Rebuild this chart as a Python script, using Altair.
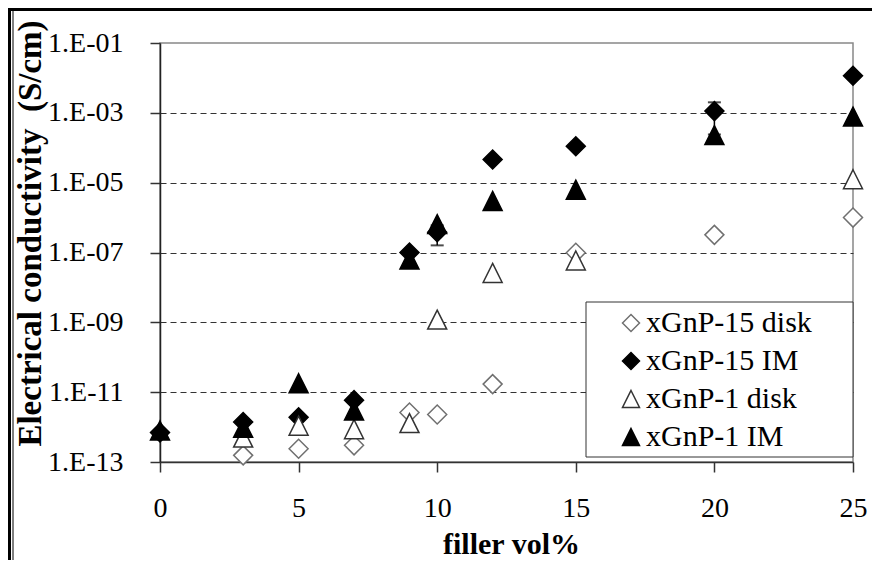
import altair as alt
import pandas as pd

series = ["xGnP-15 disk", "xGnP-15 IM", "xGnP-1 disk", "xGnP-1 IM"]

x_15disk = [3, 5, 7, 9, 10, 12, 15, 20, 25]
y_15disk = [1.55e-13, 2.4e-13, 3.0e-13, 2.6e-12, 2.3e-12, 1.7e-11, 9.8e-8, 3.2e-7, 1.0e-6]

x_15im = [0, 3, 5, 7, 9, 10, 12, 15, 20, 25]
y_15im = [7e-13, 1.4e-12, 1.9e-12, 5.9e-12, 1.0e-7, 3.8e-7, 4.6e-5, 1.1e-4, 1.12e-3, 1.15e-2]

x_1disk = [3, 5, 7, 9, 10, 12, 15, 25]
y_1disk = [5.0e-13, 1.1e-12, 8.7e-13, 1.3e-12, 1.2e-9, 2.6e-8, 5.9e-8, 1.25e-5]

x_1im = [0, 3, 5, 7, 9, 10, 12, 15, 20, 25]
y_1im = [8e-13, 9.5e-13, 1.8e-11, 3.0e-12, 6.3e-8, 6.5e-7, 3.0e-6, 6.3e-6, 2.3e-4, 7.8e-4]

# error bars (xGnP-15 IM)
err_x = [10, 20]
err_lo = [1.6e-7, 2.4e-4]
err_hi = [6.0e-7, 2.0e-3]

y_ticks = [1e-13, 1e-11, 1e-9, 1e-7, 1e-5, 1e-3, 1e-1]
x_ticks = [0, 5, 10, 15, 20, 25]

shape_range = ["diamond", "diamond", "M0,-1L1,1L-1,1Z", "M0,-1L1,1L-1,1Z"]
fill_range = ["white", "black", "white", "black"]
stroke_range = ["#707070", "black", "#333333", "black"]

rows = []
for name, xs, ys in zip(series, [x_15disk, x_15im, x_1disk, x_1im],
                        [y_15disk, y_15im, y_1disk, y_1im]):
    for xv, yv in zip(xs, ys):
        rows.append({"vol": xv, "cond": yv, "series": name})
df = pd.DataFrame(rows)
err_df = pd.DataFrame({"vol": err_x, "lo": err_lo, "hi": err_hi})
one = pd.DataFrame({"a": [0]})

FONT = "Liberation Serif"

xscale = alt.Scale(domain=[0, 25], nice=False, zero=True)
yscale = alt.Scale(type="log", domain=[1e-13, 1e-1], nice=False)

label_expr = ("'1.E-' + (round(-log(datum.value)/LN10) < 10 ? '0' : '') + "
              "round(-log(datum.value)/LN10)")

x_axis = alt.Axis(values=x_ticks, title="filler vol%", grid=False,
                  labelFont=FONT, labelFontSize=28, labelColor="black",
                  labelPadding=22, labelFlush=False,
                  tickSize=10, tickColor="#333333", tickWidth=1.5,
                  domainColor="#333333", domainWidth=1.5,
                  titleFont=FONT, titleFontSize=30, titleFontWeight="bold",
                  titleColor="black", titleX=351, titleY=82,
                  titleAlign="center", titleBaseline="middle")
y_axis = alt.Axis(values=y_ticks, labelExpr=label_expr,
                  title="Electrical conductivity\u00a0\u00a0(S/cm)",
                  grid=True, gridDash=[6, 4], gridColor="#333333", gridWidth=1,
                  gridOpacity={"condition": {"test": "datum.value > 0.05 || datum.value < 1e-12", "value": 0}, "value": 1},
                  labelFont=FONT, labelFontSize=28, labelColor="black",
                  labelPadding=27, labelFlush=False,
                  tickSize=10, tickColor="#333333", tickWidth=1.5,
                  domainColor="#222222", domainWidth=1.5,
                  titleFont=FONT, titleFontSize=33, titleFontWeight="bold",
                  titleColor="black", titleAngle=270, titleX=-130, titleY=190,
                  titleAlign="center", titleBaseline="middle")

legend = alt.Legend(orient="none", legendX=426, legendY=259, title=None,
                    padding=6, rowPadding=8, symbolOffset=24, labelOffset=0,
                    symbolSize=289, symbolStrokeWidth=1.5, labelLimit=400,
                    labelFont=FONT, labelFontSize=30, labelColor="black")

points = alt.Chart(df).mark_point(size=361, strokeWidth=1.5, opacity=1).encode(
    x=alt.X("vol:Q", scale=xscale, axis=x_axis),
    y=alt.Y("cond:Q", scale=yscale, axis=y_axis),
    shape=alt.Shape("series:N", scale=alt.Scale(domain=series, range=shape_range), legend=legend),
    fill=alt.Fill("series:N", scale=alt.Scale(domain=series, range=fill_range), legend=legend),
    stroke=alt.Stroke("series:N", scale=alt.Scale(domain=series, range=stroke_range), legend=legend),
)

err_rule = alt.Chart(err_df).mark_rule(color="black", strokeWidth=1.5).encode(
    x="vol:Q", y="lo:Q", y2="hi:Q")
err_cap_lo = alt.Chart(err_df).mark_tick(color="black", thickness=2, size=13,
                                         orient="horizontal").encode(x="vol:Q", y="lo:Q")
err_cap_hi = alt.Chart(err_df).mark_tick(color="black", thickness=2, size=13,
                                         orient="horizontal").encode(x="vol:Q", y="hi:Q")

# legend box (chart chrome)
legend_box = alt.Chart(one).mark_rect(fill="white", stroke="#333333", strokeWidth=1).encode(
    x=alt.value(426), x2=alt.value(693), y=alt.value(259), y2=alt.value(414))

frame_top = alt.Chart(one).mark_rule(color="black", strokeWidth=3).encode(
    x=alt.value(-152), x2=alt.value(712), y=alt.value(-33.5))
frame_left = alt.Chart(one).mark_rule(color="black", strokeWidth=3).encode(
    x=alt.value(-150.5), y=alt.value(-35), y2=alt.value(517))
frame_left_thin = alt.Chart(one).mark_rule(color="black", strokeWidth=1).encode(
    x=alt.value(-147), y=alt.value(-32), y2=alt.value(517))

chart = alt.layer(frame_top, frame_left, frame_left_thin,
                  err_rule, err_cap_lo, err_cap_hi, points, legend_box).properties(
    width=693, height=419,
    autosize=alt.AutoSizeParams(type="none"),
    padding={"left": 152, "top": 35, "right": 19, "bottom": 98},
    background="white",
).configure(font=FONT
).configure_view(stroke="#888888", strokeWidth=1.5
).configure_legend(strokeWidth=0)

chart.save("out.html", embed_options={"renderer": "svg", "actions": False})
